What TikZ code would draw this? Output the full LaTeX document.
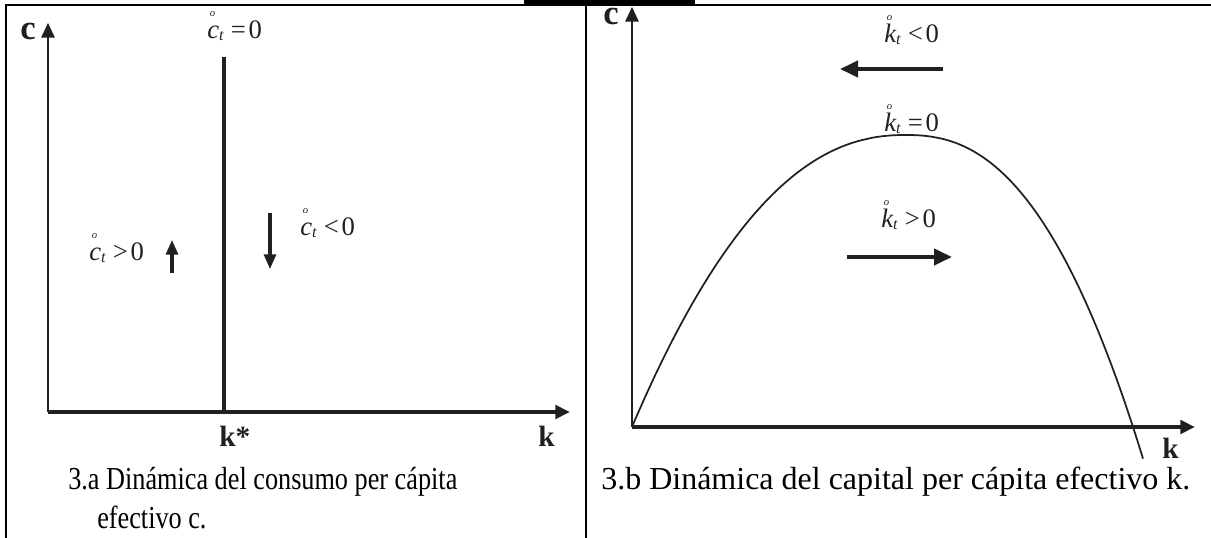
\documentclass[tikz,border=0pt]{standalone}
\usepackage{fontspec}
\setmainfont{Liberation Serif}
\usetikzlibrary{arrows.meta}
\definecolor{ink}{HTML}{231F20}
\newcommand{\dotsym}[1]{\makebox[0pt][l]{\raisebox{16.5pt}{\hspace{2pt}\fontsize{8}{8}\selectfont\itshape o}}{\itshape #1}}
\newcommand{\dotlab}[3]{\dotsym{#1}\raisebox{-1.5pt}{\fontsize{12}{12}\selectfont\itshape t}\hspace{5.5pt}#2\hspace{2pt}#3}
\tikzset{
  frame/.style={line width=1.6pt, black},
  axisv/.style={line width=1.5pt, ink, -{Triangle[length=11pt,width=10pt]}},
  axish/.style={line width=3pt, ink, -{Triangle[length=11pt,width=10pt]}},
  locus/.style={line width=2.3pt, ink},
  smallarrow/.style={line width=2.3pt, ink, -{Triangle[length=11pt,width=9pt]}},
  bigarrow/.style={line width=3pt, ink, -{Triangle[length=13.5pt,width=12pt]}},
  curve/.style={line width=1.3pt, ink},
  mlabel/.style={inner sep=0pt, anchor=base west, font=\fontsize{20}{20}\selectfont, text=ink},
  blabel/.style={inner sep=0pt, anchor=base west, font=\fontsize{26}{26}\selectfont\bfseries, text=ink},
  klabel/.style={inner sep=0pt, anchor=base west, font=\fontsize{22}{22}\selectfont\bfseries, text=ink},
  caption/.style={inner sep=0pt, anchor=base west, font=\fontsize{24}{24}\selectfont, text=black},
}
\begin{document}
\begin{tikzpicture}[x=0.75pt,y=-0.75pt]
\useasboundingbox (0,0) rectangle (1211,538);
% frame
\fill[black] (524,0) rectangle (695,5.5);
\coordinate (FTL) at (6,5);
\coordinate (FTR) at (1211,5);
\coordinate (FBL) at (6,538);
\coordinate (FMT) at (586,5);
\coordinate (FMB) at (586,538);
\draw[frame] (FBL) -- (FTL) -- (FTR);
\draw[frame] (FMT) -- (FMB);
% ---------- left panel ----------
\coordinate (LO) at (48,412);
\coordinate (LYT) at (48,23);
\coordinate (LXT) at (570,412);
\coordinate (LVT) at (224,57);
\coordinate (LVB) at (224,412);
\draw[axisv] (LO) -- (LYT);
\draw[axish] (LO) -- (LXT);
\draw[locus] (LVB) -- (LVT);
\coordinate (UA1) at (172,273);
\coordinate (UA2) at (172,240);
\coordinate (DA1) at (270,213);
\coordinate (DA2) at (270,269);
\draw[smallarrow] (UA1) -- (UA2);
\draw[smallarrow] (DA1) -- (DA2);
\node[blabel] (lc) at (20,40) {c};
\node[klabel] (lkstar) at (219,446) {k*};
\node[klabel] (lk) at (538,446) {k};
\node[mlabel] (c0) at (207,39) {\dotlab{c}{=}{0}};
\node[mlabel] (cpos) at (89,261) {\dotlab{c}{>}{0}};
\node[mlabel] (cneg) at (300,236) {\dotlab{c}{<}{0}};
\node[caption] (capa1) at (68,489) {\scalebox{0.82}[1]{3.a Dinámica del consumo per cápita}};
\node[caption] (capa2) at (97,528) {\scalebox{0.82}[1]{efectivo c.}};
% ---------- right panel ----------
\coordinate (RO) at (632,427);
\coordinate (RYT) at (632,7);
\coordinate (RXT) at (1195,427);
\draw[axisv] (RO) -- (RYT);
\draw[axish] (RO) -- (RXT);
\draw[curve] plot[domain=0:272.9,samples=90,smooth] ({632+\x},{427-292*(1-((273-\x)/273)^2.2)})
  -- plot[domain=0.1:238,samples=90,smooth] ({905+\x},{427-292*(1-(\x/228)^2.4)});
\coordinate (LA1) at (943,69);
\coordinate (LA2) at (840,69);
\coordinate (RA1) at (847,257);
\coordinate (RA2) at (952,257);
\draw[bigarrow] (LA1) -- (LA2);
\draw[bigarrow] (RA1) -- (RA2);
\node[blabel] (rc) at (603,25) {c};
\node[klabel] (rk) at (1162,458) {k};
\node[mlabel] (kneg) at (884,43) {\dotlab{k}{<}{0}};
\node[mlabel] (kzero) at (884,132) {\dotlab{k}{=}{0}};
\node[mlabel] (kpos) at (881,228) {\dotlab{k}{>}{0}};
\node[caption] (capb) at (601,489) {3.b Dinámica del capital per cápita efectivo k.};
\end{tikzpicture}
\end{document}
